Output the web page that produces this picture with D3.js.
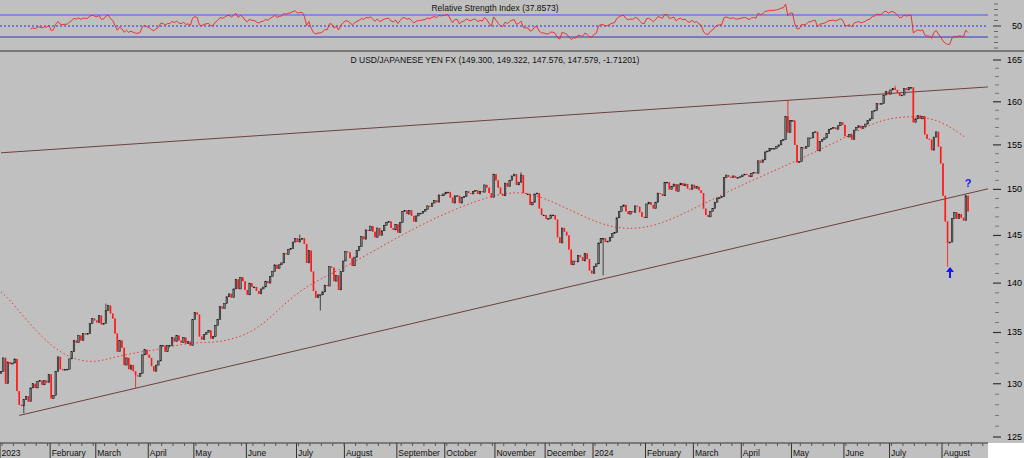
<!DOCTYPE html>
<html><head><meta charset="utf-8">
<script src="https://cdn.jsdelivr.net/npm/d3@7"></script>
<style>body{margin:0;background:#c0c0c0;}svg{display:block;font-family:Arial,"Liberation Sans",sans-serif;}</style>
</head><body><svg id="c" width="1024" height="458"></svg>
<script>
// ---- DATA ----
const monthLabels = ["2023","February","March","April","May","June","July","August","September","October","November","December","2024","February","March","April","May","June","July","August"];
const closes2023 = [
 [131.2,132.5,130.0,132.1,131.9,132.0,132.4,129.3,128.0,127.9,128.5,128.8,128.3,129.6,130.0,129.6,130.2,130.3,129.9,130.3,130.1,130.9],
 [128.6,128.9,131.2,132.6,131.4,131.3,131.4,131.4,132.4,133.1,134.2,134.0,134.7,134.2,134.9,134.8,134.9,135.9,136.4,136.2],
 [136.0,136.7,135.8,135.9,137.2,137.7,136.9,136.4,134.9,133.1,134.2,133.5,131.8,132.5,131.4,131.8,131.2,130.8,130.7,131.0,132.8,133.3,132.8],
 [132.5,131.7,131.2,131.8,132.2,133.7,133.7,133.1,133.7,133.7,134.5,134.1,134.7,134.2,134.0,134.5,133.9,134.1,133.7,136.3],
 [137.0,136.8,134.6,134.3,134.8,135.0,135.2,134.4,134.6,135.7,136.3,137.6,137.4,137.9,138.6,138.9,138.5,139.4,140.4,139.4,140.6,140.2,139.3],
 [138.8,140.0,139.6,139.6,139.2,138.9,139.4,139.6,140.2,140.0,140.7,141.2,141.9,141.5,141.9,142.1,143.1,143.0,143.5,143.6,144.3,144.7],
 [144.3,144.6,144.7,144.1,142.1,143.4,141.2,139.2,138.5,138.8,138.8,139.1,139.8,139.7,141.7,141.6,140.2,140.8,139.3,141.2,142.3],
 [143.3,143.2,142.6,141.8,142.7,143.4,143.8,144.9,144.6,145.6,145.5,146.0,145.4,144.8,145.8,145.0,145.5,146.1,146.4,146.5,145.8,145.6,146.2],
 [145.3,146.4,147.6,147.7,147.3,147.7,147.1,146.5,147.1,147.4,147.4,147.6,147.8,148.2,148.1,148.5,148.8,148.6,149.4,149.3,149.5],
 [149.7,149.7,149.1,148.5,149.3,149.3,148.5,149.1,149.2,149.8,149.6,149.5,149.8,149.9,149.5,149.8,149.7,150.5,150.2,149.6,149.1,151.7],
 [151.0,150.2,149.5,149.3,150.7,150.3,151.0,151.5,151.7,150.5,150.8,151.6,149.6,149.5,149.5,148.3,148.6,149.5,149.6,147.9,147.2,147.2],
 [146.8,146.8,147.2,147.2,146.7,144.8,144.2,145.8,145.4,145.0,143.5,141.9,142.3,142.2,142.9,142.7,142.3,143.1,142.5,141.3,141.0]];
const closes2024 = [
 [141.7,142.0,144.2,144.7,144.7,144.3,144.4,144.8,145.2,145.3,146.9,147.6,148.1,148.3,147.6,147.3,147.6,147.5,148.2,148.1,147.5,147.0,146.9],
 [148.4,148.6,148.3,147.9,148.6,149.6,149.5,149.3,150.8,150.8,150.0,150.3,150.6,149.8,150.5,150.7,150.4,150.6,150.1,150.0,150.5],
 [150.1,150.3,149.9,149.6,147.9,147.2,147.0,147.6,147.9,148.6,149.0,149.1,149.2,151.3,151.6,151.4,151.3,151.5,151.3,151.3,151.4],
 [151.6,151.7,151.6,151.4,151.8,151.9,151.8,153.2,153.0,153.3,154.2,154.3,154.6,154.6,154.6,154.8,155.0,155.5,155.6,158.3,156.4,157.8],
 [157.8,155.0,153.0,153.1,154.7,154.6,154.8,155.8,155.8,156.4,156.5,154.3,155.4,155.6,155.8,156.3,156.8,156.9,157.0,156.8,157.2,157.6,157.3],
 [156.0,155.9,156.2,155.6,156.7,157.0,157.2,156.9,157.1,157.4,157.8,158.0,158.9,159.0,159.8,159.7,159.8,160.8,161.2,160.9],
 [161.4,161.6,161.4,161.1,160.7,160.8,161.6,161.4,161.7,161.7,157.6,158.0,158.4,158.0,158.3,156.2,155.7,155.6,154.4,155.9,156.5,154.8,152.9],
 [149.3,146.5,144.2,144.3,146.8,147.5,146.8,147.3,146.9,146.6,149.3,147.58]];
const firstOpen = 131.0;
// notable wick extremes: [bar index, price]
const wickHighs = [[46,137.9],[131,145.1],[228,151.9],[345,160.2],[392,161.9],[423,149.4]];
const wickLows = [[10,127.2],[59,129.6],[140,137.2],[264,140.8],[415,141.7]];
// dotted moving average [bar index, value]
const maIdx = [0,4,23,39,48,61,69,82,93,102,114,126,136,153,175,197,219,232,245,263,276,289,307,329,350,372,385,399,412,423];
const maVal = [139.1,138.3,133.0,131.9,132.5,133.1,133.3,134.0,134.0,134.3,135.5,138.3,140.0,141.9,145.0,147.7,149.7,149.7,148.3,146.1,145.6,146.1,148.3,151.0,153.3,156.1,157.9,158.4,157.9,155.8];
// trend lines [bar index, price]
const upperLine = [[0,154.1],[435,161.8]];
const lowerLine = [[8,127.0],[435,150.2]];
const priceTicks = [125,130,135,140,145,150,155,160,165];

// ---- BUILD ----
const months = closes2023.concat(closes2024);
const bars = []; const monthStart = [];
let prev = firstOpen;
months.forEach((m,mi)=>{ monthStart.push(bars.length); m.forEach(c=>{ bars.push({o:prev,c:c,h:Math.max(prev,c),l:Math.min(prev,c)}); prev=c; }); });
wickHighs.forEach(([i,v])=>{ if(bars[i]) bars[i].h=Math.max(bars[i].h,v); });
wickLows.forEach(([i,v])=>{ if(bars[i]) bars[i].l=Math.min(bars[i].l,v); });

const svg = d3.select("#c");
const x = d3.scaleLinear().domain([0,413]).range([1,943]);
const y = d3.scaleLog().domain([125,165]).range([437,60]);
const plotR = 988;

svg.append("defs").append("clipPath").attr("id","mp").append("rect").attr("x",0).attr("y",52).attr("width",plotR).attr("height",391);
svg.select("defs").append("clipPath").attr("id","rp").append("rect").attr("x",0).attr("y",3).attr("width",plotR).attr("height",47);

// RSI panel
const ry = d3.scaleLinear().domain([30,70]).range([37,15]);
const rsi = []; let ag=0, al=0; const P=14;
const cl = [firstOpen].concat(bars.map(b=>b.c));
for(let i=1;i<cl.length;i++){ const d=cl[i]-cl[i-1]; const g=Math.max(d,0), l=Math.max(-d,0);
 if(i<=P){ag+=g/P; al+=l/P;} else {ag=(ag*(P-1)+g)/P; al=(al*(P-1)+l)/P;}
 if(i>=P) rsi.push([i-1, al===0?100:100-100/(1+ag/al)]); }
svg.append("line").attr("x1",0).attr("x2",plotR).attr("y1",ry(70)).attr("y2",ry(70)).attr("stroke","#8888dd").attr("stroke-width",2);
svg.append("line").attr("x1",0).attr("x2",plotR).attr("y1",ry(50)).attr("y2",ry(50)).attr("stroke","#2a2aff").attr("stroke-dasharray","2,2");
svg.append("line").attr("x1",0).attr("x2",plotR).attr("y1",ry(30)).attr("y2",ry(30)).attr("stroke","#3333cc");
svg.append("path").attr("clip-path","url(#rp)").attr("d",d3.line().x(d=>x(d[0])).y(d=>ry(d[1]))(rsi)).attr("fill","none").attr("stroke","#ee2222").attr("stroke-width",0.9);
svg.append("text").attr("x",495).attr("y",11).attr("text-anchor","middle").attr("font-size",8.5).attr("fill","#111").text("Relative Strength Index (37.8573)");
[10,20,30,40,60,70,80,90].forEach(v=>{ const yy=ry(v); if(yy>2&&yy<50) svg.append("line").attr("x1",994).attr("x2",998).attr("y1",yy).attr("y2",yy).attr("stroke","#666"); });
svg.append("line").attr("x1",993).attr("x2",1001).attr("y1",ry(50)).attr("y2",ry(50)).attr("stroke","#333");
svg.append("text").attr("x",1022).attr("y",ry(50)+3).attr("text-anchor","end").attr("font-size",9).text("50");
svg.append("line").attr("x1",0).attr("x2",1024).attr("y1",51).attr("y2",51).attr("stroke","#333").attr("stroke-width",1);

// title
svg.append("text").attr("x",495).attr("y",63).attr("text-anchor","middle").attr("font-size",8.5).attr("fill","#111").text("D USD/JAPANESE YEN FX (149.300, 149.322, 147.576, 147.579, -1.71201)");

// price axis
for(let v=125; v<=165; v++){ const major=v%5===0; svg.append("line").attr("x1",major?993:995).attr("x2",major?1001:999).attr("y1",y(v)).attr("y2",y(v)).attr("stroke",major?"#333":"#777").attr("stroke-width",major?1.2:1); }
priceTicks.forEach(v=>svg.append("text").attr("x",1022).attr("y",y(v)+3).attr("text-anchor","end").attr("font-size",9).text(v));

const g = svg.append("g").attr("clip-path","url(#mp)");
// trend lines
[upperLine,lowerLine].forEach(L=>g.append("line").attr("x1",x(L[0][0])).attr("y1",y(L[0][1])).attr("x2",x(L[1][0])).attr("y2",y(L[1][1])).attr("stroke","#6b4040").attr("stroke-width",1));
// MA
g.append("path").attr("d",d3.line().curve(d3.curveBasis).x((d,i)=>x(d)).y((d,i)=>y(maVal[i]))(maIdx)).attr("fill","none").attr("stroke","#ee3333").attr("stroke-width",1).attr("stroke-dasharray","1.5,2.5");
// candles
const bw = 1.6;
bars.forEach((b,i)=>{ const up=b.c>=b.o; const cx=x(i);
 g.append("line").attr("x1",cx).attr("x2",cx).attr("y1",y(b.h)).attr("y2",y(b.l)).attr("stroke",up?"#222":"#ff1010").attr("stroke-width",0.8);
 const top=y(Math.max(b.o,b.c)), bot=y(Math.min(b.o,b.c));
 g.append("rect").attr("x",cx-bw/2).attr("y",top).attr("width",bw).attr("height",Math.max(bot-top,0.8)).attr("fill",up?"#7a7a7a":"#ff1a1a").attr("stroke",up?"#111":"none").attr("stroke-width",0.5);
});
// annotations
svg.append("text").attr("x",968).attr("y",187).attr("text-anchor","middle").attr("font-size",11).attr("font-weight","bold").attr("fill","#1515ff").text("?");
svg.append("path").attr("d",d3.line()([[950,278],[950,270]])).attr("stroke","#1515ff").attr("stroke-width",2);
svg.append("path").attr("d",d3.line()([[946,272],[950,267],[954,272]])+"Z").attr("fill","#1515ff");

// time axis
svg.append("rect").attr("x",plotR).attr("y",443).attr("width",36).attr("height",15).attr("fill","#fff");
svg.append("line").attr("x1",0).attr("x2",plotR).attr("y1",443).attr("y2",443).attr("stroke","#333");
monthStart.forEach((s,mi)=>{ const tx=x(s)-1; svg.append("line").attr("x1",tx).attr("x2",tx).attr("y1",443).attr("y2",458).attr("stroke","#333");
 svg.append("text").attr("x",tx+1.5).attr("y",456).attr("font-size",8.5).attr("fill","#111").text(monthLabels[mi]); });
for(let i=0;i<bars.length+10;i+=5){ const tx=x(i)+1; if(tx<plotR) svg.append("line").attr("x1",tx).attr("x2",tx).attr("y1",443).attr("y2",446).attr("stroke","#555"); }
</script></body></html>
